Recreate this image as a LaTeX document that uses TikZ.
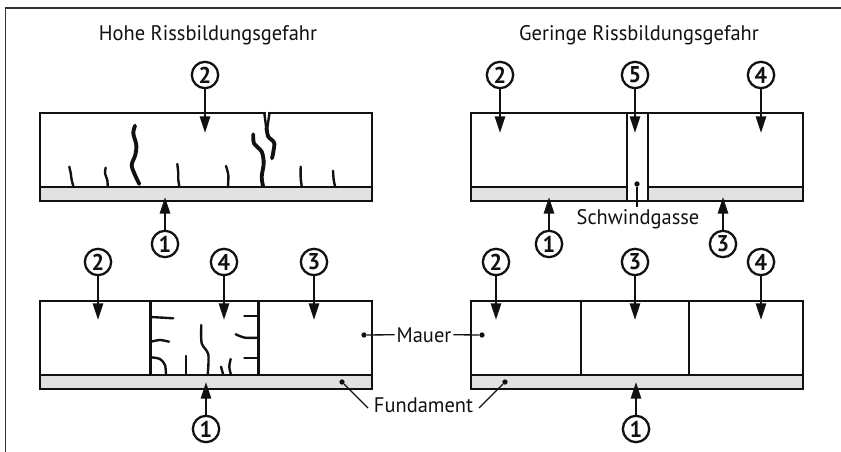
\documentclass[tikz,border=0pt]{standalone}
\usepackage{fontspec}
\setmainfont[FakeStretch=0.97]{PT Sans}
\usetikzlibrary{arrows.meta}
\definecolor{ink}{HTML}{111111}
\definecolor{framegray}{HTML}{333333}
\definecolor{footing}{HTML}{E2E2E2}
\tikzset{
  >={Triangle[length=9.5pt,width=5.8pt]},
  title/.style={font=\fontsize{12}{14}\selectfont, text=ink, anchor=base, inner sep=0pt},
  label/.style={font=\fontsize{12}{14}\selectfont, text=ink, anchor=base, inner sep=1pt},
  num/.style={circle, draw=ink, fill=white, line width=1.3pt, minimum size=15pt, inner sep=0pt,
    font=\fontsize{13}{13}\selectfont\bfseries, text=ink},
  wall/.style={draw=ink, line width=1.45pt, line join=miter},
  load/.style={draw=ink, line width=1.3pt, ->},
  crack/.style={draw=ink, line width=1.35pt, line cap=round},
  wide crack/.style={draw=ink, line width=2.2pt, line cap=round},
  leader/.style={draw=ink, line width=0.75pt},
  dot/.style={circle, fill=ink, minimum size=3pt, inner sep=0pt},
}
\begin{document}
\begin{tikzpicture}[x=0.02cm,y=-0.02cm]
  \useasboundingbox (0,0) rectangle (841,452);
  \fill[white] (0,0) rectangle (841,452);
  \draw[framegray, line width=1pt] (5.5,452) -- (5.5,8) -- (841,8);

  \node[title] (titleHigh) at (208,41) {Hohe Rissbildungsgefahr};
  \node[title] (titleLow) at (639,41) {Geringe Rissbildungsgefahr};

  % --- foundations ---
  \fill[footing] (40,187) rectangle (372,201);
  \fill[footing] (471,187) rectangle (803,201);
  \fill[footing] (40,375) rectangle (372,389);
  \fill[footing] (471,375) rectangle (803,389);
  \fill[white] (627,187) rectangle (648,201);

  % --- walls ---
  \draw[wall] (40,113) rectangle (372,201);
  \draw[wall] (40,187) -- (372,187);
  \draw[wall] (471,113) rectangle (803,201);
  \draw[wall] (471,187) -- (627,187);
  \draw[wall] (648,187) -- (803,187);
  \foreach \x in {627,648} {
    \draw[wall] (\x,113) -- (\x,201);
  }
  \draw[wall] (40,301) rectangle (372,389);
  \draw[wall] (40,375) -- (372,375);
  \draw[wall] (471,301) rectangle (803,389);
  \draw[wall] (471,375) -- (803,375);
  \foreach \x in {150.5,258.5} {
    \draw[wall] (\x,301) -- (\x,375);
  }
  \foreach \x in {581,689} {
    \draw[wall] (\x,301) -- (\x,375);
  }

  % cracks top left
  \draw[crack] plot[smooth] coordinates {(69.3,166.7) (70.7,173) (71.7,180) (73.3,186)};
  \draw[crack] plot[smooth] coordinates {(105.7,167.7) (105,173.3) (107.3,180) (107.7,186)};
  \draw[wide crack] plot[smooth] coordinates {(135,125.7) (133.3,133.3) (136.3,145) (135.3,155) (131.7,165) (135,175) (139.3,184)};
  \draw[crack] plot[smooth] coordinates {(177.3,164) (178.3,173.3) (178.3,180) (179.3,186)};
  \draw[crack] plot[smooth] coordinates {(226,166) (228.3,175) (228,186)};
  \draw[wide crack] plot[smooth] coordinates {(253.3,134.3) (254,143.3) (261.7,151.7) (263.7,163.3) (261.7,176.7) (263,186)};
  \draw[crack] plot[smooth] coordinates {(300.7,166.7) (300.7,178.3) (301.7,186)};
  \draw[crack] plot[smooth] coordinates {(333,170.7) (333.7,180) (335,186)};
  % notch in the top edge
  \draw[white, line width=2pt] (265.8,113) -- (268,113);
  \draw[wide crack] plot[smooth] coordinates {(266.5,128) (268.3,136.7) (274.3,143.3) (272,158.3)};
  \draw[crack] (264.3,113) -- (266.5,130);
  \draw[crack] (269.5,113) -- (267,130);

  % cracks lower left
  \draw[crack] (151,317) -- (173.3,318.3);
  \draw[crack] plot[smooth] coordinates {(151,341.7) (160,340) (169,341.7)};
  \draw[crack] plot[smooth] coordinates {(151,357.3) (160,359) (165,365) (166,375)};
  \draw[crack] (185.7,356) -- (185.7,375);
  \draw[crack] plot[smooth] coordinates {(201.3,325) (201.7,343.3) (208.3,354.3) (207.7,375)};
  \draw[crack] (221,366.7) -- (223.3,375);
  \draw[crack] plot[smooth] coordinates {(230.7,359) (229.3,366.7) (231,375)};
  \draw[crack] (244.3,315.7) -- (258.3,315.7);
  \draw[crack] plot[smooth] coordinates {(235.7,334.3) (245,337.7) (258.3,337.7)};
  \draw[crack] (244.3,358.3) -- (258.3,358.3);

  % --- numbered loads ---
  \foreach \n/\lab/\x/\y/\xt/\yt in {
    a/2/205/75/205/133, b/1/165/244/165/197,
    c/2/500/75/500/133, d/5/635/75/635/133, e/4/761/75/761/133,
    f/1/549/244/549/197, g/3/723/244/723/197,
    h/2/98/262/98/320, i/4/224/262/224/320, j/3/314/262/314/320,
    k/1/206/429/206/382,
    l/2/496/262/496/320, m/3/635/262/635/320, o/4/761/262/761/320,
    p/1/636/429/636/382} {
    \node[num] (load\n) at (\x,\y) {\lab};
    \coordinate (tip\n) at (\xt,\yt);
    \draw[load] (load\n) -- (tip\n);
  }

  % --- labels ---
  \node[label] (mauer) at (424,342) {Mauer};
  \node[dot] (dotWallL) at (364,335) {};
  \node[dot] (dotWallR) at (482,335) {};
  \draw[leader] (dotWallL) -- (mauer.west);
  \draw[leader] (mauer.east) -- (dotWallR);

  \node[label] (fundament) at (423.5,412) {Fundament};
  \node[dot] (dotFootL) at (342,382) {};
  \node[dot] (dotFootR) at (505,382) {};
  \coordinate (fundL) at (368,408);
  \coordinate (fundR) at (479,408);
  \draw[leader] (dotFootL) -- (fundL);
  \draw[leader] (dotFootR) -- (fundR);

  \node[label] (gasse) at (638,225) {Schwindgasse};
  \node[dot] (dotGap) at (637,184) {};
  \coordinate (gasseTop) at (637,207);
  \draw[leader] (dotGap) -- (gasseTop);
\end{tikzpicture}
\end{document}
